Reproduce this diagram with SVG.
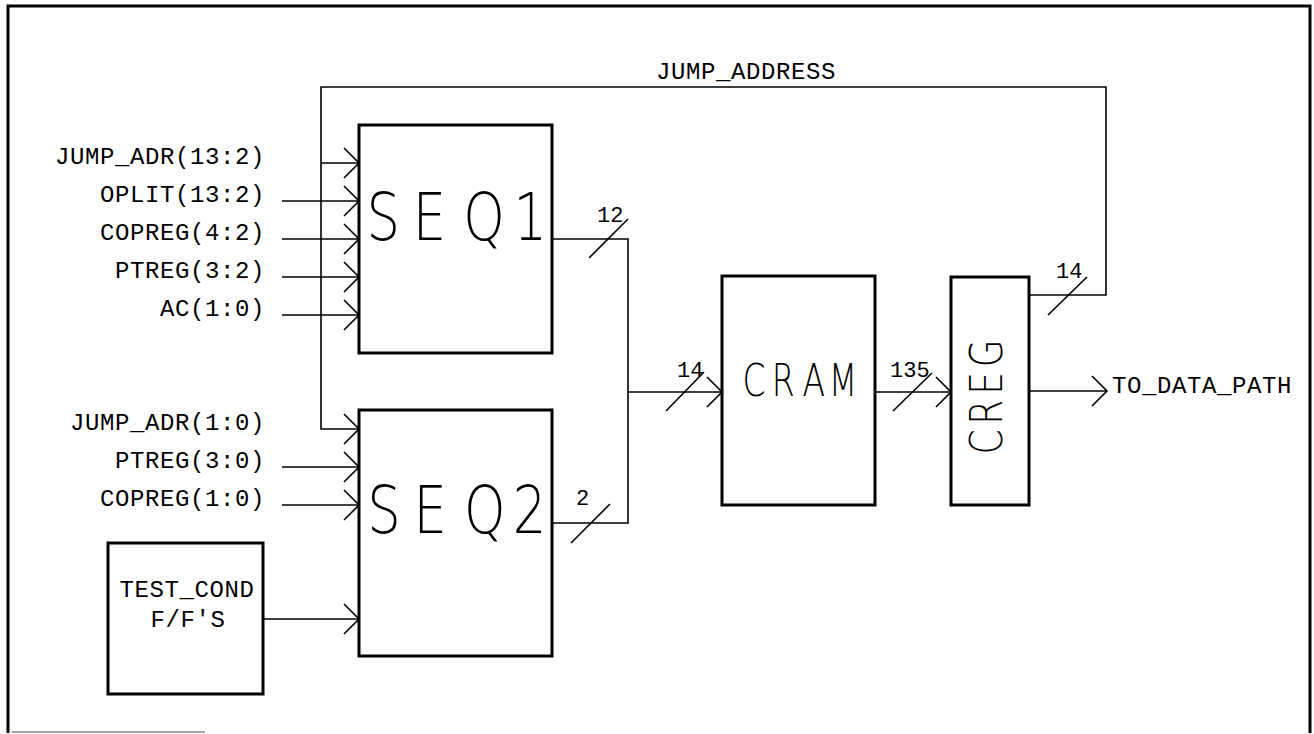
<svg xmlns="http://www.w3.org/2000/svg" width="1314" height="734" viewBox="0 0 1314 734">
<defs>
<style>
.box{fill:#fff;stroke:#000;stroke-width:3}
.wire{fill:none;stroke:#000;stroke-width:1.6}
.slash{stroke:#000;stroke-width:1.6}
.lbl{font-family:"Liberation Mono","DejaVu Sans Mono",monospace;font-size:24px;letter-spacing:0.6px;fill:#000}
.num{font-family:"Liberation Mono","DejaVu Sans Mono",monospace;font-size:22px;fill:#000}
.big{font-family:"DejaVu Sans","Liberation Sans",sans-serif;font-weight:200;fill:#000}
</style>
<marker id="arr" markerUnits="userSpaceOnUse" markerWidth="20" markerHeight="34" refX="15" refY="16" orient="auto" overflow="visible">
<path d="M0,1 L15,16 L0,31" fill="none" stroke="#000" stroke-width="1.6"/>
</marker>
</defs>
<rect width="1314" height="734" fill="#fff"/>
<g id="frame">
<path d="M8,733 V6 H1310 V733" fill="none" stroke="#000" stroke-width="3"/>
<path d="M12,732 H205" stroke="#888" stroke-width="1.5"/>
</g>
<g id="connectors">
<path class="wire" d="M1029,295 H1106 V87 H321 V429 H359" marker-end="url(#arr)"/>
<path class="wire" d="M321,163 H359" marker-end="url(#arr)"/>
<path class="wire" d="M282,201 H359" marker-end="url(#arr)"/>
<path class="wire" d="M282,239 H359" marker-end="url(#arr)"/>
<path class="wire" d="M282,277 H359" marker-end="url(#arr)"/>
<path class="wire" d="M282,315 H359" marker-end="url(#arr)"/>
<path class="wire" d="M282,467 H359" marker-end="url(#arr)"/>
<path class="wire" d="M282,505 H359" marker-end="url(#arr)"/>
<path class="wire" d="M263,619 H359" marker-end="url(#arr)"/>
<path class="wire" d="M552,239 H628 V523 H552"/>
<path class="wire" d="M628,392 H722" marker-end="url(#arr)"/>
<path class="wire" d="M875,392 H951" marker-end="url(#arr)"/>
<path class="wire" d="M1029,391 H1107" marker-end="url(#arr)"/>
<line class="slash" x1="589" y1="258" x2="628" y2="219"/>
<line class="slash" x1="571" y1="543" x2="610" y2="504"/>
<line class="slash" x1="666" y1="411" x2="704" y2="372"/>
<line class="slash" x1="893" y1="411" x2="932" y2="373"/>
<line class="slash" x1="1048" y1="315" x2="1087" y2="277"/>
<text class="num" x="597" y="222">12</text>
<text class="num" x="576" y="505">2</text>
<text class="num" x="677" y="377">14</text>
<text class="num" x="890" y="377">135</text>
<text class="num" x="1056" y="278">14</text>
<text class="lbl" x="656" y="79">JUMP_ADDRESS</text>
<text class="lbl" x="1112" y="393">TO_DATA_PATH</text>
<text class="lbl" text-anchor="end" x="265" y="164">JUMP_ADR(13:2)</text>
<text class="lbl" text-anchor="end" x="265" y="202">OPLIT(13:2)</text>
<text class="lbl" text-anchor="end" x="265" y="240">COPREG(4:2)</text>
<text class="lbl" text-anchor="end" x="265" y="278">PTREG(3:2)</text>
<text class="lbl" text-anchor="end" x="265" y="316">AC(1:0)</text>
<text class="lbl" text-anchor="end" x="265" y="430">JUMP_ADR(1:0)</text>
<text class="lbl" text-anchor="end" x="265" y="468">PTREG(3:0)</text>
<text class="lbl" text-anchor="end" x="265" y="506">COPREG(1:0)</text>
</g>
<g id="seq1">
<rect class="box" x="359" y="125" width="193" height="228"/>
<text class="big" transform="translate(0,240) scale(0.8,1)" x="458 516 579 642" y="0" font-size="66">SEQ1</text>
</g>
<g id="seq2">
<rect class="box" x="359" y="410" width="193" height="246"/>
<text class="big" transform="translate(0,533) scale(0.8,1)" x="459 517 580 641" y="0" font-size="66">SEQ2</text>
</g>
<g id="test_cond">
<rect class="box" x="108" y="543" width="155" height="151"/>
<text class="lbl" x="187" y="597" text-anchor="middle">TEST_COND</text>
<text class="lbl" x="188" y="627" text-anchor="middle">F/F'S</text>
</g>
<g id="cram">
<rect class="box" x="722" y="276" width="153" height="229"/>
<text class="big" transform="translate(0,396) scale(0.75,1)" x="990 1029 1070 1105" y="0" font-size="44">CRAM</text>
</g>
<g id="creg">
<rect class="box" x="951" y="277" width="78" height="228"/>
<text class="big" transform="translate(1002,397) rotate(-90) scale(0.8,1)" x="3" y="0" text-anchor="middle" font-size="45" letter-spacing="6">CREG</text>
</g>
</svg>
